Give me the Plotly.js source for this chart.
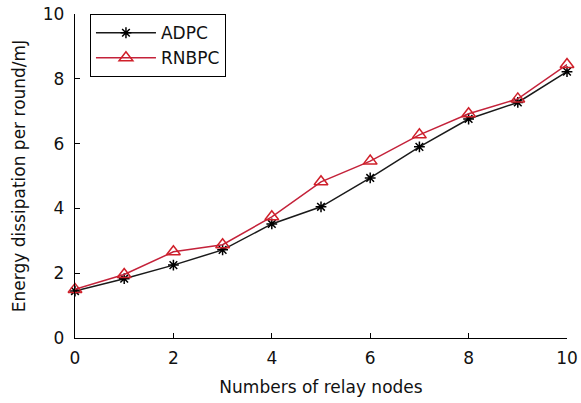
<!DOCTYPE html>
<html>
<head>
<meta charset="utf-8">
<script src="https://cdn.plot.ly/plotly-3.0.1.min.js"></script>
<style>html,body{margin:0;padding:0;background:#fff;}#chart{width:581px;height:403px;}</style>
</head>
<body>
<div id="chart"></div>
<script>
const relayNodes = [0, 1, 2, 3, 4, 5, 6, 7, 8, 9, 10];
const adpc = [1.45, 1.83, 2.25, 2.72, 3.52, 4.05, 4.94, 5.9, 6.76, 7.27, 8.22];
const rnbpc = [1.5, 1.96, 2.66, 2.88, 3.74, 4.82, 5.46, 6.27, 6.92, 7.38, 8.44];
const xTicks = [0, 2, 4, 6, 8, 10];
const yTicks = [0, 2, 4, 6, 8, 10];

const fam = '"DejaVu Sans", "Liberation Sans", Arial, sans-serif';
const titleFont = {family: fam, size: 17, color: '#111'};
const tickFont = {family: fam, size: 17, color: '#111'};

const traces = [
  {x: relayNodes, y: adpc, name: 'ADPC', type: 'scatter', mode: 'lines+markers', cliponaxis: false,
   line: {color: '#1a1a1a', width: 1.5},
   marker: {symbol: 'asterisk-open', size: 9, color: '#000', line: {color: '#000', width: 1.5}}},
  {x: relayNodes, y: rnbpc, name: 'RNBPC', type: 'scatter', mode: 'lines+markers', cliponaxis: false,
   line: {color: '#c4223a', width: 1.5},
   marker: {symbol: 'triangle-up-open', size: 12, color: '#d0202a', line: {color: '#d0202a', width: 1.5}}}
];

const layout = {
  width: 581, height: 403,
  margin: {l: 75, r: 14, t: 14, b: 65},
  paper_bgcolor: '#fff', plot_bgcolor: '#fff',
  font: titleFont,
  showlegend: true,
  legend: {x: 0.03, y: 1, xanchor: 'left', yanchor: 'top',
           bordercolor: '#000', borderwidth: 1.2, bgcolor: '#fff',
           font: titleFont, itemwidth: 60, tracegroupgap: 0},
  xaxis: {range: [0, 10], tickvals: xTicks, ticktext: xTicks.map(String),
          ticks: 'inside', ticklen: 5, tickcolor: '#000', showline: true, linecolor: '#000', linewidth: 1.2,
          showgrid: false, zeroline: false, tickfont: tickFont, ticklabelstandoff: 4,
          title: {text: 'Numbers of relay nodes', font: titleFont, standoff: 14}},
  yaxis: {range: [0, 10], tickvals: yTicks, ticktext: yTicks.map(String),
          ticks: 'inside', ticklen: 5, tickcolor: '#000', showline: true, linecolor: '#000', linewidth: 1.2,
          showgrid: false, zeroline: false, tickfont: tickFont, ticklabelstandoff: 6,
          title: {text: 'Energy dissipation per round/mJ', font: titleFont, standoff: 12}}
};

Plotly.newPlot('chart', traces, layout, {staticPlot: true, displayModeBar: false});
</script>
</body>
</html>
